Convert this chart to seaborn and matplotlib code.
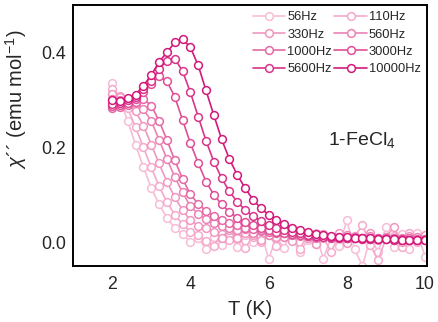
import numpy as np
import pandas as pd
import matplotlib
matplotlib.use("Agg")
import matplotlib.pyplot as plt
import seaborn as sns
from matplotlib.ticker import MultipleLocator

T = [2.0 + 0.2 * i for i in range(41)]

freqs = ["56Hz", "110Hz", "330Hz", "560Hz", "1000Hz", "3000Hz", "5600Hz", "10000Hz"]

chi_56 = [0.335, 0.300, 0.255, 0.205, 0.158, 0.115, 0.080, 0.052, 0.030, 0.018,
          0.000, 0.010, -0.015, 0.012, -0.005, 0.020, -0.010, 0.015, 0.000, 0.025,
          -0.035, 0.010, -0.012, 0.030, -0.020, 0.005, 0.020, -0.035, 0.012, -0.008,
          0.046, -0.015, -0.050, 0.010, -0.020, 0.032, -0.010, 0.018, -0.015, 0.020,
          -0.030]
chi_110 = [0.322, 0.308, 0.282, 0.242, 0.200, 0.158, 0.118, 0.085, 0.058, 0.038,
           0.022, 0.015, 0.002, -0.008, 0.018, 0.004, 0.020, -0.012, 0.012, 0.000,
           0.016, -0.008, 0.022, 0.004, -0.015, 0.018, -0.004, 0.010, -0.020, 0.015,
           0.002, 0.012, 0.036, -0.006, -0.038, 0.008, 0.014, -0.010, 0.020, 0.000,
           0.010]
chi_330 = [0.312, 0.306, 0.296, 0.276, 0.246, 0.206, 0.166, 0.128, 0.095, 0.068,
           0.046, 0.035, 0.030, 0.022, 0.010, 0.026, 0.008, 0.020, 0.016, 0.004,
           0.018, 0.012, 0.024, 0.002, 0.016, 0.010, -0.004, 0.018, 0.008, 0.020,
           -0.002, 0.014, 0.006, 0.020, 0.004, 0.010, 0.032, 0.000, 0.014, 0.006,
           0.016]
chi_560 = [0.302, 0.300, 0.298, 0.293, 0.280, 0.256, 0.216, 0.176, 0.138, 0.105,
           0.076, 0.060, 0.048, 0.040, 0.035, 0.030, 0.026, 0.028, 0.020, 0.024,
           0.016, 0.022, 0.012, 0.020, 0.014, 0.018, 0.010, 0.016, 0.012, 0.008,
           0.016, 0.010, 0.006, 0.014, 0.008, 0.012, 0.004, 0.010, 0.008, 0.012,
           0.006]
chi_1000 = [0.282, 0.286, 0.290, 0.296, 0.302, 0.288, 0.256, 0.216, 0.173, 0.134,
            0.101, 0.081, 0.066, 0.055, 0.047, 0.041, 0.036, 0.031, 0.028, 0.025,
            0.022, 0.020, 0.019, 0.016, 0.017, 0.014, 0.013, 0.014, 0.011, 0.012,
            0.010, 0.011, 0.009, 0.010, 0.008, 0.009, 0.008, 0.007, 0.008, 0.006,
            0.007]
chi_3000 = [0.287, 0.289, 0.293, 0.301, 0.316, 0.333, 0.350, 0.339, 0.307, 0.258,
            0.209, 0.167, 0.128, 0.100, 0.080, 0.064, 0.052, 0.043, 0.036, 0.030,
            0.026, 0.022, 0.019, 0.017, 0.015, 0.013, 0.012, 0.011, 0.010, 0.009,
            0.009, 0.008, 0.008, 0.007, 0.007, 0.006, 0.006, 0.006, 0.005, 0.005,
            0.005]
chi_5600 = [0.292, 0.294, 0.299, 0.306, 0.322, 0.340, 0.365, 0.383, 0.387, 0.361,
            0.316, 0.265, 0.214, 0.170, 0.135, 0.107, 0.085, 0.068, 0.055, 0.045,
            0.037, 0.031, 0.026, 0.022, 0.019, 0.016, 0.014, 0.012, 0.011, 0.010,
            0.009, 0.008, 0.007, 0.007, 0.006, 0.006, 0.005, 0.005, 0.004, 0.004,
            0.004]
chi_10000 = [0.300, 0.298, 0.303, 0.311, 0.330, 0.352, 0.380, 0.400, 0.421, 0.428,
             0.411, 0.373, 0.320, 0.268, 0.217, 0.175, 0.142, 0.114, 0.090, 0.072,
             0.058, 0.047, 0.038, 0.031, 0.026, 0.022, 0.018, 0.016, 0.014, 0.012,
             0.011, 0.010, 0.008, 0.008, 0.007, 0.006, 0.006, 0.005, 0.005, 0.005,
             0.004]

series = [chi_56, chi_110, chi_330, chi_560, chi_1000, chi_3000, chi_5600, chi_10000]
colors = ["#f7bdd7", "#f4aacb", "#f097c0", "#eb82b3", "#e569a5", "#df4f97",
          "#d93489", "#d3197b"]

sns.set_theme(style="white")
plt.rcParams["font.family"] = ["Liberation Sans", "DejaVu Sans"]
plt.rcParams["mathtext.fontset"] = "custom"
plt.rcParams["mathtext.rm"] = "Liberation Sans"
plt.rcParams["mathtext.it"] = "Liberation Sans:italic"

fig = plt.figure(figsize=(4.39, 3.22), dpi=100)
ax = fig.add_axes([73 / 439, 1 - 266 / 322, (427 - 73) / 439, (266 - 5) / 322])

for name, vals, c in zip(freqs, series, colors):
    df = pd.DataFrame({"T": T, "chi": vals})
    sns.lineplot(data=df, x="T", y="chi", ax=ax, color=c, lw=1.2, marker="o",
                 ms=5.6, mfc="white", mec=c, mew=1.1, sort=False,
                 estimator=None, label=name)

ax.set_xlim(1, 10.05)
ax.set_ylim(-0.05, 0.5)
ax.xaxis.set_major_locator(MultipleLocator(2))
ax.xaxis.set_minor_locator(MultipleLocator(1))
ax.yaxis.set_major_locator(MultipleLocator(0.2))
ax.yaxis.set_minor_locator(MultipleLocator(0.1))
ax.tick_params(which="both", direction="in", top=False, right=False,
               labelsize=12.8, color="black", width=1.2)
ax.tick_params(which="major", length=4.5)
ax.tick_params(which="minor", length=2.5)
ax.tick_params(axis="x", pad=7)
ax.tick_params(axis="y", pad=5)
for sp in ax.spines.values():
    sp.set_linewidth(1.4)
    sp.set_color("black")

ax.set_xlabel("T (K)", fontsize=14.5, labelpad=5)
ax.set_ylabel(r"$\chi$´´ (emu mol$^{-1}$)", fontsize=14.5)
ax.yaxis.set_label_coords(-0.125, 0.64)

ax.text(0.815, 0.483, r"1-FeCl$_4$", transform=ax.transAxes, fontsize=14,
        ha="center", va="center")

# row-wise legend order (matplotlib fills columns first)
handles, labels = ax.get_legend_handles_labels()
order = [0, 2, 4, 6, 1, 3, 5, 7]
ax.legend([handles[i] for i in order], [labels[i] for i in order],
          ncol=2, frameon=False, loc="upper right", fontsize=9.3,
          handlelength=2.5, columnspacing=0.2, handletextpad=0.15,
          labelspacing=0.4, borderaxespad=0.3, borderpad=0.2)

fig.savefig("out.png", dpi=100)
